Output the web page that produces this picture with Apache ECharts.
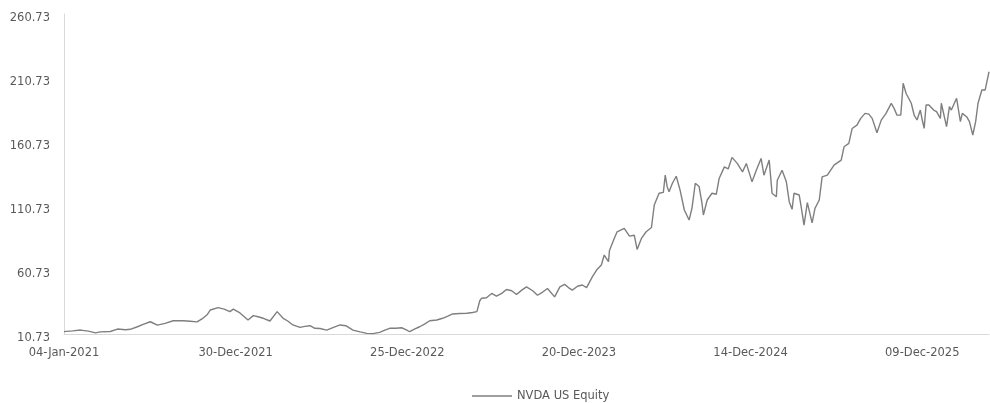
<!DOCTYPE html>
<html>
<head>
<meta charset="utf-8">
<script src="https://cdn.jsdelivr.net/npm/echarts@6/dist/echarts.min.js"></script>
<style>
html,body{margin:0;padding:0;background:#fff;}
#chart{width:990px;height:403px;}
</style>
</head>
<body>
<div id="chart"></div>
<script>
const seriesName = 'NVDA US Equity';
const dates = [
'2021-01-04','2021-01-22','2021-02-08','2021-02-24','2021-03-11','2021-03-21','2021-04-11','2021-04-26','2021-05-13','2021-05-23',
'2021-06-07','2021-06-19','2021-07-04','2021-07-19','2021-08-04','2021-08-21','2021-09-11','2021-09-26','2021-10-10','2021-10-23',
'2021-10-31','2021-11-07','2021-11-23','2021-12-06','2021-12-18','2021-12-25','2022-01-08','2022-01-25','2022-02-05','2022-02-15',
'2022-02-26','2022-03-12','2022-03-27','2022-04-08','2022-04-19','2022-04-29','2022-05-14','2022-05-24','2022-06-04','2022-06-14',
'2022-06-25','2022-07-09','2022-07-22','2022-08-06','2022-08-18','2022-09-02','2022-09-17','2022-10-01','2022-10-14','2022-10-28',
'2022-11-08','2022-11-18','2022-12-01','2022-12-13','2022-12-22','2022-12-30','2023-01-10','2023-01-20','2023-01-31','2023-02-10',
'2023-02-25','2023-03-09','2023-03-20','2023-03-30','2023-04-14','2023-04-29','2023-05-11','2023-05-20','2023-05-26','2023-05-30',
'2023-06-09','2023-06-20','2023-06-30','2023-07-11','2023-07-21','2023-08-01','2023-08-11','2023-08-22','2023-09-01','2023-09-14',
'2023-09-24','2023-10-05','2023-10-15','2023-10-30','2023-11-10','2023-11-20','2023-11-28','2023-12-06','2023-12-17','2023-12-27',
'2024-01-05','2024-01-17','2024-01-26','2024-02-05','2024-02-11','2024-02-20','2024-02-22','2024-03-03','2024-03-09','2024-03-24',
'2024-04-04','2024-04-14','2024-04-20','2024-04-29','2024-05-09','2024-05-20','2024-05-26','2024-06-05','2024-06-14','2024-06-18',
'2024-06-22','2024-06-26','2024-07-03','2024-07-11','2024-07-19','2024-07-28','2024-08-07','2024-08-13','2024-08-20','2024-08-28',
'2024-09-03','2024-09-06','2024-09-14','2024-09-24','2024-10-03','2024-10-09','2024-10-20','2024-10-28','2024-11-05','2024-11-16',
'2024-11-27','2024-12-05','2024-12-17','2024-12-26','2025-01-05','2025-01-11','2025-01-22','2025-01-28','2025-02-06','2025-02-08',
'2025-02-18','2025-02-27','2025-03-05','2025-03-11','2025-03-15','2025-03-26','2025-03-30','2025-04-05','2025-04-12','2025-04-22',
'2025-04-28','2025-05-07','2025-05-13','2025-05-24','2025-06-07','2025-06-22','2025-06-28','2025-07-08','2025-07-15','2025-07-25',
'2025-08-02','2025-08-11','2025-08-19','2025-08-26','2025-09-05','2025-09-14','2025-09-24','2025-10-05','2025-10-11','2025-10-17',
'2025-10-25','2025-10-30','2025-11-03','2025-11-05','2025-11-09','2025-11-16','2025-11-22','2025-11-28','2025-12-05','2025-12-09',
'2025-12-13','2025-12-17','2025-12-23','2026-01-02','2026-01-08','2026-01-16','2026-01-18','2026-01-29','2026-02-04','2026-02-08',
'2026-02-19','2026-02-27','2026-03-03','2026-03-12','2026-03-18','2026-03-25','2026-03-31','2026-04-05','2026-04-13','2026-04-20',
'2026-04-24','2026-04-28'
];
const prices = [
12.6,13.2,13.8,13.0,11.6,12.4,12.7,14.6,14.0,14.4,
16.4,18.2,20.3,17.7,19.0,21.1,21.1,20.7,20.2,23.2,
25.7,29.5,31.3,30.2,28.2,30.2,27.2,21.7,25.1,24.2,
23.0,20.9,28.2,23.2,20.7,17.8,15.9,16.7,17.2,15.2,
15.0,13.8,15.7,17.8,17.2,13.8,12.4,11.2,11.0,12.0,
13.7,15.2,15.2,15.6,14.2,12.5,14.7,16.4,18.7,21.1,
21.7,23.0,24.7,26.4,26.7,26.9,27.5,28.2,36.7,38.7,
39.0,42.4,40.3,42.5,45.5,44.5,41.6,45.0,47.6,44.5,
41.0,43.5,46.3,39.7,47.6,49.5,47.0,45.0,48.0,49.0,
47.0,55.4,60.7,64.6,72.4,67.2,76.0,85.4,90.6,93.2,
87.2,87.9,76.8,85.4,90.6,93.9,111.5,120.7,121.4,134.8,
125.8,121.9,128.5,134.0,123.3,107.6,99.8,108.9,128.5,125.9,
112.9,103.7,115.4,120.7,119.9,132.2,141.3,139.7,148.7,144.0,
137.4,144.0,129.6,138.7,147.9,134.8,146.6,120.7,118.0,130.9,
138.7,129.6,114.1,108.1,120.7,119.3,110.2,95.8,113.3,97.6,
108.9,115.4,133.5,134.8,142.7,146.6,157.0,159.6,171.3,173.9,
179.2,183.1,182.5,179.2,167.9,177.8,183.1,190.9,187.0,181.7,
181.8,206.6,206.6,198.8,200.0,191.0,181.8,177.9,185.7,177.9,
171.4,189.6,189.6,185.7,184.4,179.2,191.0,172.7,188.3,185.7,
194.9,176.6,183.1,180.5,176.6,166.2,176.6,191.0,201.4,201.4,
201.4,215.6
];
const yMin = 10.73, yMax = 260.73, yStep = 50;
const xStepDays = 360;

const MON = ['Jan','Feb','Mar','Apr','May','Jun','Jul','Aug','Sep','Oct','Nov','Dec'];
function fmtDate(v){
  const d = new Date(v);
  const dd = String(d.getUTCDate()).padStart(2,'0');
  return dd + '-' + MON[d.getUTCMonth()] + '-' + d.getUTCFullYear();
}
const ts = dates.map(s => Date.parse(s + 'T00:00:00Z'));
const data = ts.map((t,i) => [t, prices[i]]);

const chart = echarts.init(document.getElementById('chart'));
chart.setOption({
  animation: false,
  backgroundColor: '#ffffff',
  grid: {left: 64, right: 1, top: 14, bottom: 69, containLabel: false},
  legend: {
    data: [{name: seriesName, icon: 'rect'}],
    left: 467, top: 385,
    itemWidth: 40, itemHeight: 1.5,
    itemStyle: {color: '#7f7f7f'},
    textStyle: {color: '#595959', fontSize: 11.5, fontFamily: 'DejaVu Sans'}
  },
  xAxis: {
    type: 'value',
    min: ts[0], max: ts[ts.length-1],
    interval: xStepDays * 86400000,
    axisLine: {show: true, lineStyle: {color: '#d9d9d9', width: 1}},
    axisTick: {show: false},
    splitLine: {show: false},
    axisLabel: {
      color: '#595959', fontSize: 11.5, fontFamily: 'DejaVu Sans', margin: 13,
      showMaxLabel: false,
      formatter: v => fmtDate(v)
    }
  },
  yAxis: {
    type: 'value',
    min: yMin, max: yMax, interval: yStep,
    axisLine: {show: true, lineStyle: {color: '#d9d9d9', width: 1}},
    axisTick: {show: false},
    splitLine: {show: false},
    axisLabel: {
      color: '#595959', fontSize: 11.5, fontFamily: 'DejaVu Sans', margin: 14,
      verticalAlign: 'top', lineHeight: 8,
      formatter: v => v.toFixed(2)
    }
  },
  series: [{
    name: seriesName,
    type: 'line',
    data: data,
    symbol: 'none',
    showSymbol: false,
    lineStyle: {color: '#7f7f7f', width: 1.4},
    itemStyle: {color: '#7f7f7f'}
  }]
});
</script>
</body>
</html>
